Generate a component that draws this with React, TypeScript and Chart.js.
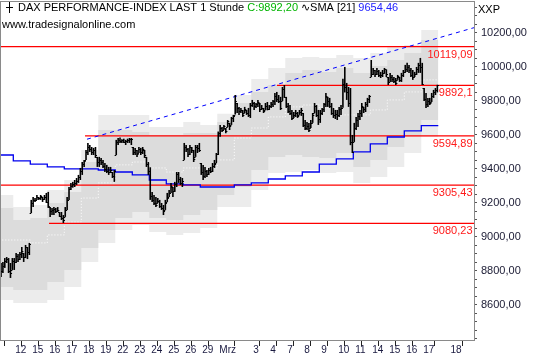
import React, { useEffect, useRef } from 'react';
import { Chart, registerables } from 'chart.js';

Chart.register(...registerables);

const FONT = '"Liberation Sans", Arial, sans-serif';

// ---- x axis (unit = one trading day; day 1 = 12 Feb) ----
const X_MIN = 0.2765;
const X_MAX = 28.1;
const xTickDays = [1, 2, 3, 4, 5, 6, 7, 8, 9, 10, 11, 12, 13, 15, 16, 17, 18, 19, 20, 21, 22, 23, 24, 25, 26.6];
const xTickLabels = ['12', '15', '16', '17', '18', '19', '22', '23', '24', '25', '26', '29', 'Mrz', '3', '4', '7', '8', '9', '10', '11', '14', '15', '16', '17', '18'];

// ---- y axis ----
const Y_MIN = 8394;
const Y_MAX = 10382;
const yLabelValues = [8600, 8800, 9000, 9200, 9400, 9600, 9800, 10000, 10200];
const yMinorFrom = 8400;
const yMinorTo = 10350;
const yMinorStep = 50;

// ---- hourly bars (9 per day, first visible bar = slot 2 of day 0) ----
const BARS_PER_DAY = 9;
const FIRST_SLOT = 2;
const barHigh = [
  8847, 8853, 8876, 8882, 8876, 8847, 8876,
  8876, 8906, 8900, 8912, 8941, 8906, 8953, 8941, 8965,
  9218, 9235, 9229, 9247, 9235, 9247, 9235, 9247, 9259,
  9265, 9176, 9171, 9176, 9171, 9176, 9147, 9147, 9129,
  9176, 9235, 9294, 9318, 9324, 9335, 9347, 9365, 9406,
  9441, 9453, 9512, 9553, 9541, 9529, 9524, 9529, 9471,
  9471, 9465, 9453, 9435, 9424, 9412, 9412, 9382, 9394,
  9571, 9582, 9585, 9575, 9578, 9571, 9578, 9582, 9582,
  9529, 9524, 9512, 9529, 9524, 9529, 9512, 9471, 9441,
  9410, 9265, 9247, 9235, 9229, 9218, 9200, 9188, 9218,
  9259, 9276, 9318, 9294, 9324, 9382, 9382, 9353, 9347,
  9553, 9541, 9524, 9541, 9529, 9512, 9541, 9541, 9553,
  9435, 9424, 9412, 9394, 9406, 9412, 9435, 9453, 9494,
  9620, 9659, 9647, 9659, 9641, 9688, 9671, 9706, 9718,
  9835, 9788, 9765, 9759, 9747, 9765, 9747, 9759, 9788,
  9806, 9794, 9788, 9806, 9788, 9776, 9759, 9788, 9794,
  9776, 9794, 9806, 9847, 9853, 9835, 9824, 9882, 9894,
  9824, 9788, 9776, 9747, 9735, 9747, 9735, 9747, 9759,
  9729, 9688, 9676, 9671, 9688, 9729, 9788, 9776, 9747,
  9747, 9759, 9788, 9847, 9824, 9818, 9788, 9759, 9747,
  9747, 9765, 9776, 9930, 10000, 9906, 9882, 9876, 9600,
  9671, 9706, 9729, 9747, 9788, 9765, 9794, 9818, 9835,
  10041, 9994, 9982, 9994, 9982, 9971, 9982, 9994, 9985,
  9941, 9965, 9953, 9941, 9935, 9953, 9941, 9965, 9982,
  10012, 10024, 10012, 9994, 9982, 9971, 10000, 10024, 10053,
  10024, 9876, 9847, 9818, 9818, 9847, 9865, 9876, 9895,
];
const barLow = [
  8765, 8788, 8818, 8847, 8788, 8759, 8806,
  8806, 8847, 8853, 8865, 8876, 8853, 8876, 8870, 8894,
  9141, 9176, 9206, 9218, 9218, 9218, 9206, 9218, 9200,
  9171, 9118, 9129, 9129, 9141, 9147, 9118, 9100, 9082,
  9118, 9159, 9218, 9276, 9290, 9294, 9306, 9318, 9335,
  9365, 9412, 9453, 9482, 9500, 9482, 9482, 9465, 9412,
  9412, 9424, 9406, 9382, 9376, 9365, 9376, 9347, 9324,
  9482, 9541, 9553, 9553, 9553, 9541, 9553, 9553, 9541,
  9482, 9482, 9471, 9494, 9482, 9488, 9465, 9412, 9365,
  9218, 9206, 9188, 9176, 9200, 9171, 9159, 9129, 9159,
  9206, 9235, 9259, 9235, 9265, 9294, 9318, 9306, 9294,
  9453, 9500, 9471, 9482, 9494, 9441, 9471, 9494, 9500,
  9365, 9335, 9347, 9353, 9365, 9376, 9382, 9406, 9435,
  9482, 9590, 9618, 9629, 9610, 9647, 9629, 9659, 9676,
  9720, 9729, 9718, 9729, 9706, 9729, 9718, 9706, 9700,
  9765, 9747, 9759, 9765, 9735, 9747, 9729, 9747, 9745,
  9747, 9759, 9765, 9776, 9794, 9788, 9747, 9800, 9818,
  9759, 9729, 9718, 9688, 9700, 9706, 9700, 9718, 9712,
  9647, 9629, 9629, 9618, 9641, 9671, 9729, 9706, 9659,
  9671, 9718, 9735, 9765, 9765, 9759, 9718, 9700, 9694,
  9688, 9706, 9718, 9760, 9850, 9806, 9765, 9540, 9494,
  9559, 9629, 9647, 9688, 9706, 9729, 9735, 9765, 9788,
  9941, 9953, 9941, 9953, 9941, 9935, 9941, 9960, 9941,
  9894, 9912, 9912, 9906, 9894, 9924, 9912, 9912, 9941,
  9965, 9971, 9965, 9941, 9924, 9941, 9953, 9965, 9965,
  9894, 9800, 9759, 9765, 9776, 9794, 9818, 9835, 9850,
];
const barClose = [
  8800, 8830, 8860, 8870, 8800, 8790, 8860,
  8850, 8890, 8870, 8900, 8920, 8880, 8940, 8910, 8960,
  9200, 9218, 9218, 9235, 9229, 9241, 9224, 9235, 9206,
  9180, 9150, 9160, 9165, 9150, 9160, 9125, 9110, 9100,
  9160, 9220, 9280, 9300, 9310, 9320, 9330, 9350, 9390,
  9430, 9445, 9500, 9530, 9520, 9500, 9510, 9480, 9440,
  9450, 9440, 9420, 9400, 9390, 9380, 9395, 9360, 9388,
  9560, 9570, 9565, 9570, 9560, 9565, 9570, 9575, 9574,
  9500, 9510, 9490, 9515, 9500, 9515, 9480, 9430, 9390,
  9240, 9220, 9200, 9190, 9210, 9180, 9170, 9150, 9200,
  9230, 9260, 9300, 9270, 9310, 9370, 9340, 9320, 9331,
  9530, 9520, 9490, 9530, 9510, 9460, 9530, 9525, 9513,
  9380, 9360, 9390, 9370, 9395, 9390, 9420, 9430, 9490,
  9610, 9640, 9630, 9650, 9625, 9680, 9650, 9700, 9710,
  9800, 9760, 9740, 9745, 9720, 9750, 9730, 9720, 9776,
  9790, 9770, 9780, 9795, 9750, 9760, 9740, 9770, 9751,
  9770, 9785, 9800, 9830, 9810, 9800, 9760, 9870, 9824,
  9770, 9740, 9730, 9700, 9720, 9730, 9710, 9735, 9745,
  9660, 9640, 9650, 9630, 9670, 9720, 9770, 9720, 9692,
  9730, 9750, 9780, 9830, 9800, 9770, 9730, 9720, 9723,
  9720, 9750, 9760, 9900, 9880, 9850, 9790, 9560, 9498,
  9640, 9690, 9710, 9730, 9770, 9750, 9780, 9810, 9831,
  9960, 9980, 9960, 9975, 9955, 9950, 9965, 9985, 9960,
  9910, 9940, 9930, 9920, 9905, 9945, 9925, 9950, 9970,
  9990, 10000, 9980, 9955, 9940, 9960, 9985, 10010, 10000,
  9900, 9810, 9780, 9800, 9790, 9830, 9850, 9865, 9892,
];

// ---- daily zones (one value per day, day 0 .. day 25) ----
const bandOuterTop = [9247, 9176, 9188, 9276, 9335, 9512, 9718, 9718, 9718, 9647, 9647, 9676, 9659, 9724, 9835, 9929, 9994, 10053, 10059, 10053, 10071, 10053, 10082, 10118, 10129, 10218];
const bandInnerTop = [9171, 9100, 9112, 9200, 9265, 9441, 9629, 9629, 9618, 9600, 9600, 9612, 9612, 9676, 9788, 9853, 9894, 9965, 9982, 9971, 9994, 9965, 10006, 10041, 10082, 10159];
const bandCenter = [8982, 8982, 8965, 9012, 9088, 9229, 9318, 9424, 9441, 9406, 9382, 9406, 9406, 9453, 9582, 9641, 9706, 9765, 9776, 9759, 9718, 9718, 9747, 9806, 9853, 9924];
const bandInnerBot = [8706, 8688, 8688, 8735, 8806, 8935, 9041, 9112, 9147, 9112, 9100, 9129, 9159, 9247, 9294, 9394, 9471, 9482, 9471, 9465, 9494, 9412, 9453, 9529, 9588, 9688];
const bandOuterBot = [8629, 8612, 8612, 8629, 8706, 8853, 8965, 9041, 9071, 9029, 9012, 9024, 9053, 9176, 9176, 9276, 9376, 9382, 9394, 9376, 9382, 9318, 9353, 9412, 9494, 9588];

// ---- SMA [21] (daily steps) ----
const smaValues = [9482, 9447, 9429, 9412, 9400, 9400, 9394, 9382, 9365, 9335, 9312, 9306, 9294, 9294, 9306, 9318, 9341, 9359, 9382, 9429, 9459, 9500, 9547, 9588, 9624, 9654.46];

// ---- trend line and support/resistance levels ----
const trendDays = [5.335, 28.1];
const trendValues = [9575, 10231];
const levelValues = [10119.09, 9892.1, 9594.89, 9305.43, 9080.23];
const levelLabels = ['10119,09', '9892,1', '9594,89', '9305,43', '9080,23'];
const levelStartDays = [0, 16.51, 5.22, 0, 3.1];

const titleMain = 'DAX PERFORMANCE-INDEX LAST 1 Stunde ';
const titleClose = 'C:9892,20';
const titleSma = 'SMA [21] ';
const titleSmaValue = '9654,46';
const siteText = 'www.tradesignalonline.com';
const axisTag = 'XXP';

const LIGHT = '#ececec';
const DARK = '#dcdcdc';

function barX(n: number) {
  return (n + FIRST_SLOT + 0.5) / BARS_PER_DAY;
}
function dailySteps(values: number[]) {
  const pts = values.map((v, k) => ({ x: k, y: v }));
  pts.push({ x: values.length, y: values[values.length - 1] });
  return pts;
}
function fmt(v: number) {
  return v.toFixed(2).replace('.', ',');
}

const decorPlugin = {
  id: 'decor',
  afterDatasetsDraw(chart: any) {
    const { ctx, chartArea: a, scales } = chart;
    const ys = scales.y;
    const barsIndex = chart.data.datasets.length - 1;
    const meta = chart.getDatasetMeta(barsIndex);
    ctx.save();
    ctx.beginPath();
    ctx.rect(a.left, a.top, a.right - a.left, a.bottom - a.top);
    ctx.clip();
    ctx.strokeStyle = '#000';
    ctx.lineWidth = 1;
    ctx.beginPath();
    meta.data.forEach((el: any, n: number) => {
      // close tick (right)
      const yc = Math.round(ys.getPixelForValue(barClose[n])) + 0.5;
      ctx.moveTo(el.x, yc);
      ctx.lineTo(el.x + 1.6, yc);
      // open tick (left), at the prior bar's close kept inside the bar's range
      if (n > 0) {
        const o = Math.min(barHigh[n], Math.max(barLow[n], barClose[n - 1]));
        const yo = Math.round(ys.getPixelForValue(o)) + 0.5;
        ctx.moveTo(el.x - 1.6, yo);
        ctx.lineTo(el.x, yo);
      }
    });
    ctx.stroke();
    ctx.font = `11px ${FONT}`;
    ctx.fillStyle = '#ff1a1a';
    ctx.textAlign = 'right';
    ctx.textBaseline = 'alphabetic';
    levelValues.forEach((v, i) => {
      const y = ys.getPixelForValue(v);
      ctx.fillText(levelLabels[i], a.right - 1.5, y + 11);
    });
    ctx.restore();
  },
  afterDraw(chart: any) {
    const { ctx, chartArea: a } = chart;
    ctx.save();
    ctx.strokeStyle = '#8a8a8a';
    ctx.lineWidth = 1;
    ctx.strokeRect(a.left - 0.5, a.top - 0.5, a.right - a.left + 1, a.bottom - a.top + 1);
    // legend glyph
    ctx.strokeStyle = '#000';
    ctx.beginPath();
    ctx.moveTo(9.5, 2);
    ctx.lineTo(9.5, 13);
    ctx.moveTo(6, 7.5);
    ctx.lineTo(13, 7.5);
    ctx.stroke();
    ctx.font = `11px ${FONT}`;
    ctx.textAlign = 'left';
    ctx.textBaseline = 'alphabetic';
    const segs: [string, string][] = [
      [titleMain, '#000'],
      [titleClose, '#00b400'],
      [' ', '#000'],
      ['\u223F', '#000'],
      [titleSma, '#000'],
      [titleSmaValue, '#2323ff'],
    ];
    let x = 18;
    segs.forEach(([t, c]) => {
      ctx.fillStyle = c;
      ctx.fillText(t, x, 10.5);
      x += ctx.measureText(t).width;
    });
    ctx.fillStyle = '#000';
    ctx.fillText(siteText, 2, 28);
    ctx.fillText(axisTag, 478, 12.5);
    ctx.restore();
  },
};

export default function App() {
  const ref = useRef<HTMLCanvasElement | null>(null);
  useEffect(() => {
    if (!ref.current) return;
    const stepped = { stepped: true, pointRadius: 0, borderWidth: 1 } as any;
    const datasets: any[] = [
      { ...stepped, type: 'line', data: dailySteps(bandOuterTop), borderColor: 'rgba(0,0,0,0)', backgroundColor: LIGHT, fill: { target: 1 }, order: 10 },
      { ...stepped, type: 'line', data: dailySteps(bandOuterBot), borderColor: 'rgba(0,0,0,0)', fill: false, order: 10 },
      { ...stepped, type: 'line', data: dailySteps(bandInnerTop), borderColor: 'rgba(0,0,0,0)', backgroundColor: DARK, fill: { target: 3 }, order: 9 },
      { ...stepped, type: 'line', data: dailySteps(bandInnerBot), borderColor: 'rgba(0,0,0,0)', fill: false, order: 9 },
      { ...stepped, type: 'line', data: dailySteps(bandCenter), borderColor: '#ffffff', borderDash: [1, 2], fill: false, order: 8 },
      ...levelValues.map((v, i) => ({
        type: 'line', data: [{ x: levelStartDays[i], y: v }, { x: X_MAX, y: v }], borderColor: '#ff0000', borderWidth: 1.2, pointRadius: 0, fill: false, order: 4,
      })),
      { type: 'line', data: trendDays.map((d, i) => ({ x: d, y: trendValues[i] })), borderColor: '#0000ff', borderWidth: 1, borderDash: [4, 4], pointRadius: 0, fill: false, order: 3 },
      { ...stepped, type: 'line', data: dailySteps(smaValues), borderColor: '#0000ee', borderWidth: 1.3, fill: false, order: 3 },
      {
        type: 'bar',
        data: barHigh.map((h, n) => ({ x: barX(n), y: [barLow[n], h] })),
        backgroundColor: '#000000',
        barThickness: 1.6,
        inflateAmount: 0,
        borderWidth: 0,
        order: 1,
      },
    ];
    const chart = new Chart(ref.current, {
      type: 'line',
      data: { datasets },
      plugins: [decorPlugin],
      options: {
        animation: false,
        responsive: false,
        devicePixelRatio: 1,
        layout: { padding: { left: 1, top: 2, right: 0, bottom: 0 } },
        plugins: { legend: { display: false }, tooltip: { enabled: false } },
        scales: {
          x: {
            type: 'linear',
            min: X_MIN,
            max: X_MAX,
            offset: false,
            afterBuildTicks: (s: any) => { s.ticks = xTickDays.map((v) => ({ value: v })); },
            afterFit: (s: any) => { s.height = 20; s.paddingLeft = 0; s.paddingRight = 0; },
            grid: { drawOnChartArea: false, drawTicks: true, tickLength: 6, tickColor: '#222222', tickWidth: 1 },
            border: { display: false },
            ticks: {
              autoSkip: false, maxRotation: 0, minRotation: 0, align: 'start', labelOffset: 2, padding: -2,
              font: { family: FONT, size: 10 }, color: '#1a1a40',
              callback: (_v: any, i: number) => xTickLabels[i],
            },
          },
          y: {
            type: 'linear',
            position: 'right',
            min: Y_MIN,
            max: Y_MAX,
            afterBuildTicks: (s: any) => {
              const t = [];
              for (let v = yMinorFrom; v <= yMinorTo; v += yMinorStep) t.push({ value: v });
              s.ticks = t;
            },
            afterFit: (s: any) => { s.width = 66; s.paddingTop = 0; s.paddingBottom = 0; },
            grid: { drawOnChartArea: false, drawTicks: true, tickLength: 3, tickColor: '#555555', tickWidth: 1 },
            border: { display: false },
            ticks: {
              autoSkip: false, padding: 4, font: { family: FONT, size: 11 }, color: '#1a1a33',
              callback: (v: any) => (yLabelValues.includes(v) ? fmt(v) : ''),
            },
          },
        },
      } as any,
    });
    return () => chart.destroy();
  }, []);
  return (
    <div style={{ position: 'absolute', left: 0, top: 0, width: 540, height: 360, background: '#fff' }}>
      <canvas ref={ref} width={540} height={360} style={{ display: 'block' }} />
    </div>
  );
}
